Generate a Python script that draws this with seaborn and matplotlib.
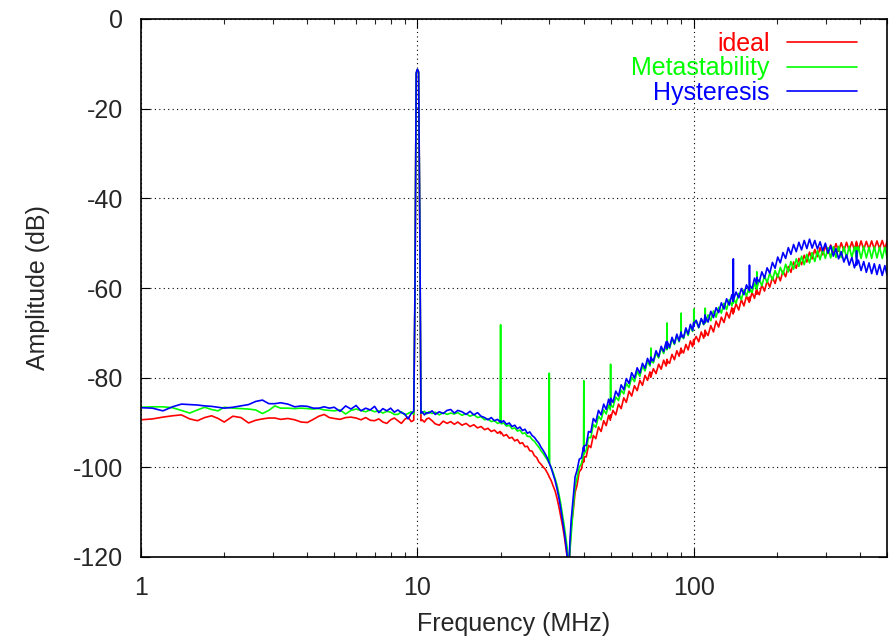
import matplotlib
matplotlib.use("Agg")
import matplotlib.pyplot as plt
import matplotlib.ticker as mticker
import pandas as pd
import seaborn as sns

# ---------------- data ----------------
series_names = ["ideal", "Metastability", "Hysteresis"]
series_colors = ["#ff0000", "#00ff00", "#0000ff"]

# 1 - 9.7 MHz : flat noise floor
freq_low = [1.0, 1.1, 1.2, 1.3, 1.4, 1.5, 1.6, 1.7, 1.8, 1.9,
            2.0, 2.15, 2.3, 2.45, 2.6, 2.75, 2.9, 3.05, 3.2, 3.4,
            3.6, 3.8, 4.0, 4.2, 4.4, 4.6, 4.8, 5.0, 5.25, 5.5,
            5.75, 6.0, 6.25, 6.5, 6.75, 7.0, 7.25, 7.5, 7.75, 8.0,
            8.25, 8.5, 8.75, 9.0, 9.25, 9.5, 9.7]
ideal_low = [-89.4, -89.2, -88.8, -88.5, -88.3, -89.2, -89.6, -88.9, -88.5, -89.1,
             -89.9, -88.6, -88.9, -90.1, -89.5, -89.2, -89.0, -89.0, -89.3, -89.1,
             -89.4, -89.9, -90.0, -89.3, -88.6, -88.2, -88.9, -89.1, -89.3, -88.9,
             -88.8, -89.0, -89.4, -88.9, -89.5, -89.6, -89.2, -89.9, -90.2, -89.4,
             -89.0, -89.6, -90.2, -89.3, -88.8, -89.8, -89.5]
meta_low = [-86.6, -86.5, -86.5, -86.7, -87.3, -87.9, -87.2, -86.6, -87.1, -87.4,
            -86.6, -86.8, -86.9, -87.0, -87.2, -88.0, -87.3, -86.3, -86.8, -86.8,
            -86.9, -86.8, -86.9, -87.0, -86.9, -87.2, -87.3, -87.4, -87.2, -88.1,
            -87.3, -87.0, -87.3, -87.6, -87.2, -87.6, -87.4, -87.9, -87.5, -87.7,
            -88.2, -88.2, -87.6, -88.3, -88.0, -87.6, -88.2]
hyst_low = [-86.7, -86.8, -87.4, -86.5, -85.9, -86.0, -86.1, -86.3, -86.4, -86.6,
            -86.8, -86.6, -86.3, -86.0, -85.3, -85.0, -85.8, -85.8, -85.6, -85.9,
            -86.5, -86.3, -86.4, -86.8, -86.8, -86.5, -86.8, -86.6, -87.5, -86.3,
            -87.0, -86.2, -87.4, -86.8, -87.2, -86.4, -87.8, -86.9, -87.4, -86.8,
            -87.7, -87.2, -87.8, -88.1, -89.2, -88.0, -87.5]

# 10 MHz carrier
freq_peak = [9.8, 9.9, 10.0, 10.1, 10.2, 10.3]
ideal_peak = [-62.0, -12.2, -11.3, -11.9, -46.0, -89.6]
meta_peak = [-61.0, -12.1, -11.3, -11.9, -45.5, -88.0]
hyst_peak = [-60.0, -12.0, -11.2, -11.8, -45.0, -87.9]

# 10.4 - 35.6 MHz : roll-off into the notch
freq_mid = [10.4, 10.6, 10.8, 11.0, 11.3, 11.6, 12.0, 12.4, 12.8, 13.2,
            13.6, 14.0, 14.5, 15.0, 15.5, 16.0, 16.5, 17.0, 17.5, 18.0,
            18.5, 19.0, 19.5, 19.9, 20.0, 20.1, 20.5, 21.0, 21.5, 22.0,
            22.5, 23.0, 23.5, 24.0, 24.5, 25.0, 25.5, 26.0, 26.5, 27.0,
            27.5, 28.0, 28.5, 29.0, 29.5, 29.9, 30.0, 30.1, 30.5, 31.0,
            31.5, 32.0, 32.5, 33.0, 33.5, 34.0, 34.5, 35.0, 35.3, 35.6]
ideal_mid = [-89.4, -89.9, -89.2, -89.0, -89.6, -90.3, -90.6, -89.7, -90.2, -89.8,
             -90.4, -89.9, -90.6, -90.2, -90.9, -90.5, -91.2, -90.9, -91.6, -91.3,
             -92.0, -91.7, -92.4, -92.0, -92.5, -92.2, -93.0, -92.7, -93.5, -93.3,
             -94.1, -93.8, -94.7, -94.5, -95.4, -95.3, -96.3, -96.4, -97.4, -97.8,
             -98.8, -99.3, -99.9, -100.4, -101.2, -101.9, -102.2, -102.3, -103.0, -104.2,
             -105.3, -106.9, -108.8, -110.9, -113.0, -115.4, -118.2, -121.0, -124.0, -118.5]
meta_mid = [-87.9, -87.5, -88.1, -87.6, -88.0, -87.7, -88.3, -87.8, -88.2, -87.9,
            -88.1, -87.8, -88.4, -88.0, -88.6, -88.2, -88.9, -88.7, -89.4, -89.2,
            -89.8, -89.6, -90.2, -90.0, -68.2, -90.3, -90.1, -90.8, -90.6, -91.4,
            -91.2, -91.9, -91.7, -92.5, -92.3, -93.1, -93.1, -93.8, -94.2, -94.9,
            -95.5, -96.3, -96.9, -97.6, -98.3, -99.0, -79.0, -99.3, -100.0, -101.2,
            -102.5, -104.0, -105.9, -108.1, -110.6, -113.2, -116.0, -119.0, -122.5, -119.0]
hyst_mid = [-87.6, -88.3, -87.8, -87.9, -87.4, -88.2, -87.6, -88.0, -87.3, -87.1,
            -87.9, -87.3, -87.6, -88.2, -87.5, -88.3, -87.8, -88.6, -88.9, -89.4,
            -88.9, -89.6, -89.3, -89.9, -89.6, -90.0, -89.6, -90.4, -90.1, -90.9,
            -90.6, -91.4, -91.0, -91.8, -91.5, -92.4, -92.1, -92.9, -93.3, -94.0,
            -94.6, -95.5, -96.2, -97.0, -97.9, -98.8, -99.0, -99.3, -100.2, -101.6,
            -103.0, -104.8, -106.8, -109.2, -111.8, -114.5, -117.5, -121.0, -124.0, -117.0]

# 36 - 100 MHz : rising noise with spurs
freq_hi1 = [36.0, 36.6, 37.2, 37.8, 38.5, 39.2, 39.9, 40.0, 40.1, 40.8,
            41.6, 42.4, 43.3, 44.2, 45.2, 46.2, 47.2, 48.2, 49.2, 49.9,
            50.0, 50.1, 51.0, 52.2, 53.4, 54.6, 55.8, 57.0, 58.3, 59.6,
            61.0, 62.4, 63.8, 65.2, 66.6, 68.0, 69.4, 69.9, 70.0, 70.1,
            71.4, 73.0, 74.6, 76.2, 77.8, 79.4, 79.9, 80.0, 80.1, 81.7,
            83.4, 85.1, 86.8, 88.5, 89.9, 90.0, 90.1, 91.8, 93.6, 95.4,
            97.2, 99.0, 99.9, 100.0, 100.1]
ideal_hi1 = [-113.3, -109.9, -105.6, -104.0, -101.0, -100.4, -97.8, -98.8, -97.6, -97.7,
             -95.1, -95.6, -92.9, -93.6, -91.0, -92.0, -89.6, -90.7, -88.4, -89.5,
             -88.3, -88.9, -87.3, -88.3, -85.9, -86.9, -84.5, -85.5, -83.0, -84.1,
             -81.8, -82.9, -80.6, -81.7, -79.5, -80.6, -78.7, -79.9, -78.9, -79.6,
             -78.0, -79.1, -77.0, -78.1, -76.1, -77.4, -75.9, -76.9, -76.2, -76.8,
             -74.8, -76.0, -74.0, -75.2, -73.4, -74.5, -73.7, -74.5, -72.6, -73.8,
             -71.8, -73.1, -71.5, -72.6, -71.9]
meta_hi1 = [-115.0, -109.3, -104.2, -102.4, -100.0, -99.2, -97.2, -80.7, -97.0, -96.2,
            -93.3, -93.4, -90.4, -91.1, -88.6, -89.4, -87.2, -88.1, -86.1, -87.2,
            -77.0, -86.2, -86.6, -84.3, -85.1, -82.8, -83.6, -81.3, -82.2, -79.9,
            -80.9, -78.6, -79.7, -77.4, -78.5, -76.3, -77.4, -76.0, -73.4, -76.3,
            -76.7, -74.5, -75.6, -73.4, -74.6, -72.5, -73.8, -67.8, -72.4, -73.5,
            -71.4, -72.6, -70.6, -72.0, -70.1, -65.6, -70.5, -71.3, -69.2, -70.6,
            -68.4, -69.7, -68.0, -64.7, -68.2]
hyst_hi1 = [-111.8, -106.9, -102.1, -100.7, -98.2, -97.9, -95.5, -96.4, -95.2, -95.1,
            -92.0, -92.2, -89.1, -89.9, -87.3, -88.3, -85.9, -87.1, -84.8, -86.1,
            -85.0, -84.6, -85.5, -83.0, -84.1, -81.6, -82.7, -80.2, -81.3, -78.9,
            -80.1, -77.8, -79.0, -76.8, -77.9, -75.7, -77.0, -75.4, -76.2, -75.6,
            -76.3, -74.0, -75.3, -73.0, -74.2, -72.0, -73.5, -72.6, -71.9, -73.2,
            -71.0, -72.4, -70.3, -71.8, -69.8, -70.9, -70.2, -71.1, -68.9, -70.3,
            -68.1, -69.5, -67.7, -68.6, -67.9]

# 102 - 500 MHz : shaped noise hump
freq_hi2 = [102.0, 104.2, 106.4, 108.6, 109.9, 110.0, 110.1, 112.6, 115.2, 117.8,
            120.4, 123.0, 125.8, 128.6, 131.4, 134.3, 137.3, 138.8, 139.0, 139.2,
            142.2, 145.4, 148.6, 151.8, 155.1, 158.8, 159.0, 159.2, 162.5, 165.8,
            168.8, 169.0, 169.2, 172.5, 176.3, 180.2, 184.2, 188.3, 192.5, 196.8,
            201.2, 205.6, 210.2, 214.9, 219.7, 224.6, 229.6, 234.7, 240.0, 245.4,
            250.9, 256.5, 262.2, 268.0, 274.0, 280.1, 286.3, 292.7, 299.2, 305.9,
            312.7, 319.7, 326.8, 334.1, 341.5, 349.1, 356.9, 364.9, 373.0, 381.3,
            387.7, 388.0, 388.3, 394.1, 402.9, 411.9, 421.0, 430.4, 440.0, 449.8,
            459.8, 470.0, 480.5, 491.2, 500.0]
ideal_hi2 = [-70.8, -72.0, -69.8, -71.2, -69.4, -70.7, -69.6, -70.6, -68.4, -69.8,
             -67.4, -68.7, -66.5, -67.7, -65.4, -66.7, -64.4, -65.8, -64.6, -65.5,
             -63.5, -64.9, -62.6, -64.0, -61.8, -63.2, -62.0, -62.9, -61.0, -62.3,
             -60.2, -61.4, -60.6, -61.5, -59.3, -60.7, -58.4, -59.8, -57.6, -59.0,
             -56.9, -58.4, -56.2, -57.5, -55.2, -56.5, -54.2, -55.6, -53.4, -54.8,
             -52.7, -54.2, -52.0, -53.5, -51.4, -53.0, -51.0, -52.6, -50.6, -52.3,
             -50.4, -52.1, -50.1, -51.8, -49.9, -51.7, -49.8, -51.6, -49.7, -51.5,
             -49.6, -51.3, -49.9, -51.4, -49.5, -51.4, -49.6, -51.3, -49.5, -51.3,
             -49.5, -51.2, -49.4, -51.3, -49.6]
meta_hi2 = [-67.4, -68.9, -66.9, -68.2, -66.5, -64.5, -67.8, -66.0, -67.3, -65.1,
            -66.5, -64.3, -65.6, -63.4, -64.8, -62.6, -64.0, -62.1, -63.4, -62.3,
            -63.4, -61.2, -62.6, -60.4, -61.8, -59.6, -61.0, -60.0, -61.0, -58.9,
            -60.3, -56.4, -60.0, -58.1, -59.5, -57.3, -58.8, -56.7, -58.2, -56.1,
            -57.6, -55.4, -57.0, -54.7, -56.4, -54.1, -55.8, -53.5, -55.2, -52.9,
            -54.8, -52.5, -54.4, -52.1, -54.1, -51.7, -53.7, -51.3, -53.4, -51.0,
            -53.3, -50.8, -53.2, -50.7, -53.2, -50.8, -53.3, -50.7, -53.2, -50.8,
            -53.3, -50.9, -53.0, -50.8, -53.4, -50.7, -53.3, -50.9, -53.4, -50.8,
            -53.3, -50.9, -53.4, -50.9, -53.2]
hyst_hi2 = [-67.2, -68.8, -66.8, -68.1, -66.0, -67.6, -66.4, -67.6, -65.2, -66.6,
            -64.4, -65.5, -63.3, -64.7, -62.4, -63.8, -61.5, -63.0, -53.5, -62.6,
            -60.9, -62.2, -60.1, -61.5, -59.3, -60.6, -54.9, -59.4, -60.1, -57.8,
            -59.1, -57.6, -58.0, -58.6, -56.4, -57.8, -55.5, -56.7, -54.3, -55.6,
            -53.1, -54.4, -52.1, -53.4, -51.0, -52.5, -50.3, -51.9, -49.8, -51.5,
            -49.4, -51.2, -49.1, -51.1, -49.4, -51.3, -49.7, -51.7, -50.0, -52.2,
            -50.6, -52.9, -51.2, -53.5, -51.9, -54.2, -52.6, -54.9, -53.2, -55.5,
            -54.0, -51.7, -54.9, -53.8, -56.1, -54.1, -56.5, -54.4, -56.8, -54.6,
            -57.0, -54.8, -57.2, -55.0, -57.1]

x_ticks = [1, 10, 100]
x_tick_labels = ["1", "10", "100"]
y_ticks = [-120, -100, -80, -60, -40, -20, 0]
y_tick_labels = ["-120", "-100", "-80", "-60", "-40", "-20", "0"]

# ---------------- assemble ----------------
freq_all = freq_low + freq_peak + freq_mid + freq_hi1 + freq_hi2
values = {
    "ideal": ideal_low + ideal_peak + ideal_mid + ideal_hi1 + ideal_hi2,
    "Metastability": meta_low + meta_peak + meta_mid + meta_hi1 + meta_hi2,
    "Hysteresis": hyst_low + hyst_peak + hyst_mid + hyst_hi1 + hyst_hi2,
}

sns.set_style("ticks")
plt.rcParams["font.family"] = ["Liberation Sans", "DejaVu Sans"]
plt.rcParams["axes.unicode_minus"] = False

fig = plt.figure(figsize=(8.92, 6.37), dpi=100)
ax = fig.add_axes([141 / 892, 1 - 557 / 637, (887 - 141) / 892, (557 - 19) / 637])

for name, color in zip(series_names, series_colors):
    df = pd.DataFrame({"freq": freq_all, "amp": values[name]})
    sns.lineplot(data=df, x="freq", y="amp", ax=ax, color=color, label=name,
                 estimator=None, sort=False, linewidth=1.2)

ax.set_xscale("log")
ax.set_xlim(1, 500)
ax.set_ylim(-120, 0)
ax.set_xticks(x_ticks)
ax.set_xticklabels(x_tick_labels)
ax.xaxis.set_minor_locator(mticker.LogLocator(base=10, subs=range(2, 10), numticks=20))
ax.xaxis.set_minor_formatter(mticker.NullFormatter())
ax.set_yticks(y_ticks)
ax.set_yticklabels(y_tick_labels)

ax.tick_params(axis="both", which="major", direction="in", length=6.5, width=0.8,
               top=True, right=True, labelsize=18, color="black")
ax.tick_params(axis="x", which="major", pad=14)
ax.tick_params(axis="y", which="major", pad=13)
ax.tick_params(axis="x", which="minor", direction="in", length=3.5, width=0.8,
               top=True, bottom=True)
for sp in ax.spines.values():
    sp.set_linewidth(1.2)
    sp.set_color("black")

ax.grid(True, which="major", color="black", linestyle=(0, (1, 3)), linewidth=0.8)

ax.set_xlabel("Frequency (MHz)", fontsize=18, labelpad=8)
ax.set_ylabel("Amplitude (dB)", fontsize=18, labelpad=16)

leg = ax.legend(loc="upper right", bbox_to_anchor=(0.96, 0.976), markerfirst=False,
                frameon=False, labelcolor="linecolor", fontsize=18,
                handlelength=2.8, handletextpad=0.7, labelspacing=0.02,
                borderaxespad=0, borderpad=0)

fig.savefig("out.png", dpi=100)
